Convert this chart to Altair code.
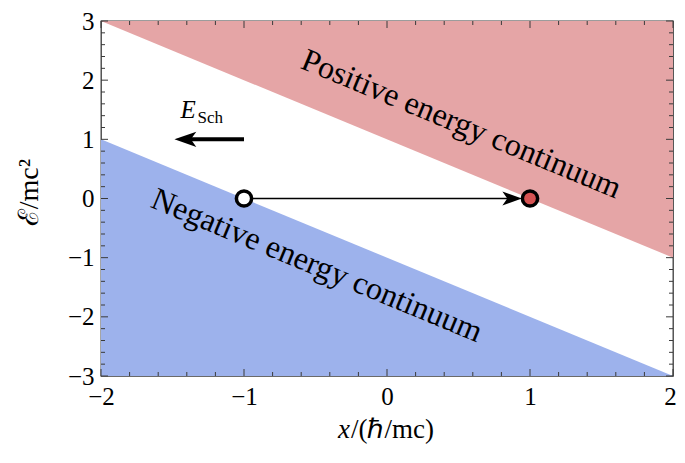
import altair as alt
import pandas as pd

# ---- data ----
x_domain = [-2, 2]
y_domain = [-3, 3]
edge_x = [-2, 2]
positive_edge = [3, -1]      # upper boundary line
positive_top = [3, 3]
negative_edge = [1, -3]      # lower boundary line
negative_bottom = [-3, -3]

x_major = [-2, -1, 0, 1, 2]
y_major = [-3, -2, -1, 0, 1, 2, 3]
x_minor = [-1.8, -1.6, -1.4, -1.2, -0.8, -0.6, -0.4, -0.2,
           0.2, 0.4, 0.6, 0.8, 1.2, 1.4, 1.6, 1.8]
y_minor = [-2.8, -2.6, -2.4, -2.2, -1.8, -1.6, -1.4, -1.2, -0.8, -0.6, -0.4, -0.2,
           0.2, 0.4, 0.6, 0.8, 1.2, 1.4, 1.6, 1.8, 2.2, 2.4, 2.6, 2.8]

transition_x = [-1, 0.87]
transition_y = [0, 0]
transition_head_x = [0.875]
transition_head_y = [0]
start_x, start_y = [-1], [0]
end_x, end_y = [1], [0]

field_arrow_x = [-1.0, -1.40]
field_arrow_y = [1.0, 1.0]
field_head_x = [-1.41]
field_head_y = [1.0]

continuum_x = [0.52, -0.49]
continuum_y = [1.26, -1.13]
continuum_text = ["Positive energy continuum", "Negative energy continuum"]

W, H = 572, 355
FONT = "Liberation Serif"
FRAME = "#3a3a3a"

xs = alt.Scale(domain=x_domain, nice=False, zero=False)
ys = alt.Scale(domain=y_domain, nice=False, zero=False)
x_axis = alt.Axis(values=x_major, labelPadding=8,
                  labelOffset=alt.condition("datum.value == 2", alt.value(-3), alt.value(0)),
                  title=None)
y_axis = alt.Axis(values=y_major, labelPadding=7,
                  title="ℰ/mc²", titleX=-72, titleY=171)


def X(f):
    return alt.X(f, type="quantitative", scale=xs, axis=x_axis)


def Y(f):
    return alt.Y(f, type="quantitative", scale=ys, axis=y_axis)


layers = []

pos_df = pd.DataFrame({"x": edge_x, "y": positive_edge, "y2": positive_top})
neg_df = pd.DataFrame({"x": edge_x, "y": negative_edge, "y2": negative_bottom})
layers.append(alt.Chart(pos_df).mark_area(color="#e5a5a6", opacity=1)
              .encode(x=X("x"), y=Y("y"), y2="y2"))
layers.append(alt.Chart(neg_df).mark_area(color="#9db2ec", opacity=1)
              .encode(x=X("x"), y=Y("y"), y2="y2"))


def xticks(vals, length):
    df = pd.DataFrame({"v": vals})
    b = alt.Chart(df).mark_rule(color=FRAME, strokeWidth=1).encode(
        x=X("v"), y=alt.value(H), y2=alt.value(H - length))
    t = alt.Chart(df).mark_rule(color=FRAME, strokeWidth=1).encode(
        x=X("v"), y=alt.value(0), y2=alt.value(length))
    return [b, t]


def yticks(vals, length):
    df = pd.DataFrame({"v": vals})
    l = alt.Chart(df).mark_rule(color=FRAME, strokeWidth=1).encode(
        y=Y("v"), x=alt.value(0), x2=alt.value(length))
    r = alt.Chart(df).mark_rule(color=FRAME, strokeWidth=1).encode(
        y=Y("v"), x=alt.value(W), x2=alt.value(W - length))
    return [l, r]


layers += xticks(x_major, 7) + xticks(x_minor, 4)
layers += yticks(y_major, 7) + yticks(y_minor, 4)

# transition arrow
tr_df = pd.DataFrame({"x": transition_x, "y": transition_y})
layers.append(alt.Chart(tr_df).mark_line(color="black", strokeWidth=1.4)
              .encode(x=X("x"), y=Y("y")))
trh_df = pd.DataFrame({"x": transition_head_x, "y": transition_head_y})
layers.append(alt.Chart(trh_df).mark_point(
    shape="M 1 0 L -1 -0.72 L -0.5 0 L -1 0.72 Z", size=380,
    filled=True, color="black", opacity=1).encode(x=X("x"), y=Y("y")))

st_df = pd.DataFrame({"x": start_x, "y": start_y})
layers.append(alt.Chart(st_df).mark_point(
    shape="circle", size=232, filled=True, fill="white", stroke="black",
    strokeWidth=3.5, opacity=1).encode(x=X("x"), y=Y("y")))
en_df = pd.DataFrame({"x": end_x, "y": end_y})
layers.append(alt.Chart(en_df).mark_point(
    shape="circle", size=232, filled=True, fill="#d65353", stroke="black",
    strokeWidth=3.5, opacity=1).encode(x=X("x"), y=Y("y")))

# field arrow
fa_df = pd.DataFrame({"x": field_arrow_x, "y": field_arrow_y})
layers.append(alt.Chart(fa_df).mark_line(color="black", strokeWidth=4)
              .encode(x=X("x"), y=Y("y")))
fah_df = pd.DataFrame({"x": field_head_x, "y": field_head_y})
layers.append(alt.Chart(fah_df).mark_point(
    shape="M -1 0 L 1 -0.7 L 0.5 0 L 1 0.7 Z", size=480,
    filled=True, color="black", opacity=1).encode(x=X("x"), y=Y("y")))

# E_Sch label
e_df = pd.DataFrame({"x": [-1.39], "y": [1.355], "t": ["E"]})
layers.append(alt.Chart(e_df).mark_text(
    font=FONT, fontStyle="italic", fontSize=25, align="center",
    baseline="alphabetic", color="black").encode(x=X("x"), y=Y("y"), text="t"))
s_df = pd.DataFrame({"x": [-1.325], "y": [1.276], "t": ["Sch"]})
layers.append(alt.Chart(s_df).mark_text(
    font=FONT, fontSize=17, align="left",
    baseline="alphabetic", color="black").encode(x=X("x"), y=Y("y"), text="t"))

# continuum labels
c_df = pd.DataFrame({"x": continuum_x, "y": continuum_y, "t": continuum_text})
layers.append(alt.Chart(c_df).mark_text(
    font=FONT, fontSize=32, angle=22.5, align="center", baseline="middle",
    color="black").encode(x=X("x"), y=Y("y"), text="t"))

# x axis title (italic x + rest)
xt1 = pd.DataFrame({"t": ["x"]})
layers.append(alt.Chart(xt1).mark_text(
    font=FONT, fontStyle="italic", fontSize=27, align="right",
    baseline="middle", color="black").encode(
    x=alt.value(249), y=alt.value(H + 54), text="t"))
xt2 = pd.DataFrame({"t": ["/(ℏ/mc)"]})
layers.append(alt.Chart(xt2).mark_text(
    font=FONT, fontSize=27, align="left",
    baseline="middle", color="black").encode(
    x=alt.value(250), y=alt.value(H + 54), text="t"))

chart = alt.layer(*layers).properties(
    width=W, height=H,
    background="white",
    autosize=alt.AutoSizeParams(type="none"),
    padding={"left": 93, "top": 13, "right": 4, "bottom": 70},
).configure_view(
    stroke=FRAME, strokeWidth=1.3
).configure_axis(
    ticks=False, domain=False, grid=False,
    labelFont=FONT, labelFontSize=25, labelColor="black",
    labelFlush=False, labelOverlap=False,
    titleFont=FONT, titleFontSize=28, titleFontWeight="normal",
    titleColor="black", titleAlign="center", titleBaseline="middle",
)

chart.save("out.html", embed_options={"renderer": "svg", "actions": False})
